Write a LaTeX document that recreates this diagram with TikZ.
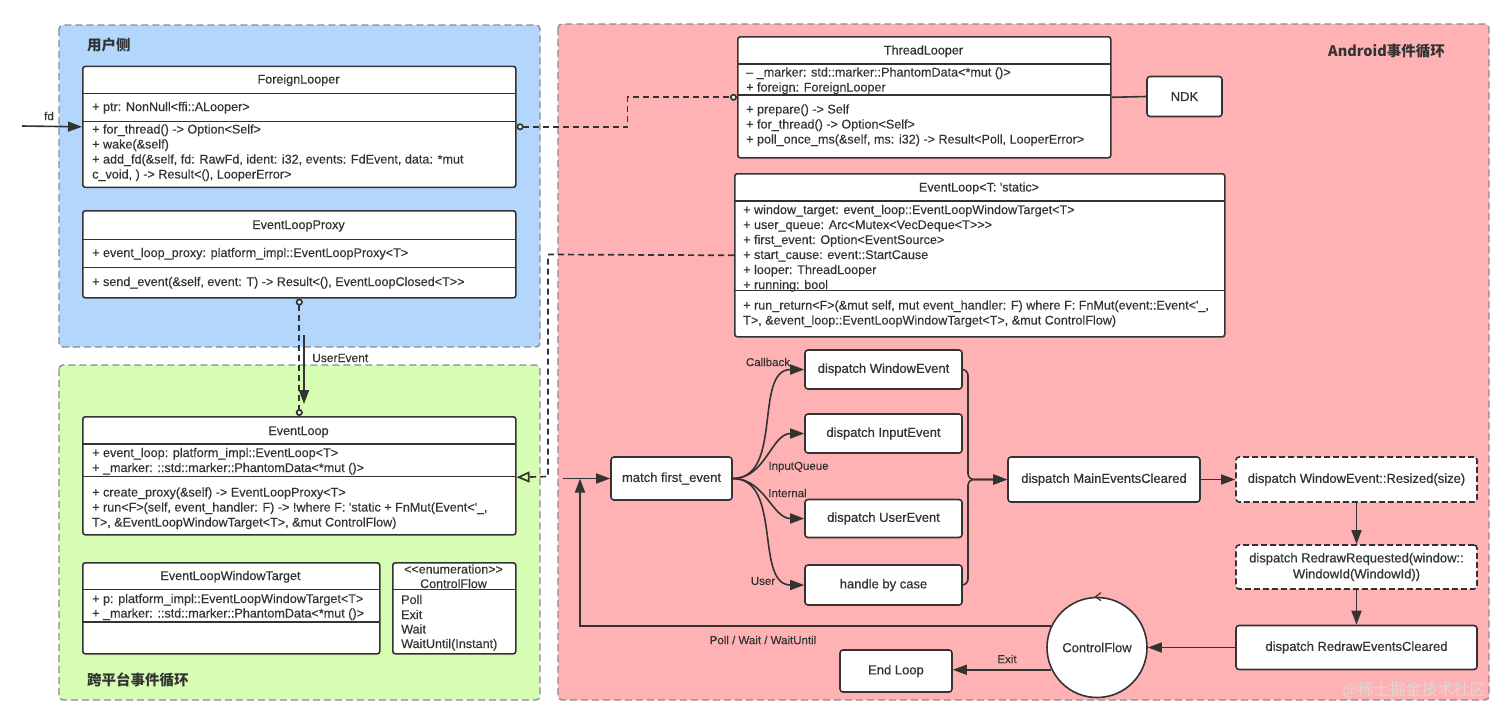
\documentclass[tikz,border=0pt]{standalone}
\usepackage{fontspec}
\newfontfamily\ui{Liberation Sans}[FakeBold=0.25]
\newfontfamily\uim{Liberation Sans}[FakeBold=0.6]
\newfontfamily\cjk{Noto Sans CJK SC}
\usetikzlibrary{arrows.meta,calc,shapes.geometric}
\definecolor{linec}{HTML}{333333}
\definecolor{framec}{HTML}{8C8C8C}
\definecolor{bluef}{HTML}{B3D6FD}
\definecolor{greenf}{HTML}{D6FDB3}
\definecolor{pinkf}{HTML}{FFB2B3}
\tikzset{
  frame/.style={draw=framec, line width=1.4pt, dash pattern=on 7pt off 4pt, rounded corners=4pt},
  cbox/.style={draw=linec, fill=white, line width=1.6pt, rounded corners=2.5pt, anchor=north west, inner sep=0pt},
  ln/.style={anchor=west, inner sep=0pt, text height=9pt, text depth=3pt, font=\ui\fontsize{12.6}{14}\selectfont, text=linec},
  ttl/.style={anchor=center, inner sep=0pt, text height=9pt, text depth=3pt, font=\uim\fontsize{12.6}{14}\selectfont, text=linec},
  sepl/.style={draw=linec, line width=1.6pt},
  fbox/.style={draw=linec, fill=white, line width=1.6pt, rounded corners=3pt, inner sep=0pt, font=\uim\fontsize{13}{16}\selectfont, text=linec, align=center},
  dbox/.style={fbox, dash pattern=on 6pt off 3pt},
  arr/.style={draw=linec, line width=1.6pt, -{Triangle[length=14pt,width=10pt]}},
  lbl/.style={inner sep=0pt, font=\ui\fontsize{11.5}{14}\selectfont, text=linec},
  dcon/.style={draw=linec, line width=1.7pt, dash pattern=on 6pt off 4pt},
  gtitle/.style={anchor=west, inner sep=0pt, font=\cjk\bfseries\fontsize{14.5}{17}\selectfont, text=linec},
}
\begin{document}
\begin{tikzpicture}[x=1pt,y=-1pt]
\useasboundingbox (0,0) rectangle (1512,724);
\fill[white] (0,0) rectangle (1512,724);

% group frames
\draw[frame, fill=bluef] (59,25) rectangle (540,347);
\draw[frame, fill=greenf] (59,365) rectangle (540,700);
\draw[frame, fill=pinkf] (558,24) rectangle (1489,700);
\node[gtitle] (g1) at (87,45) {用户侧};
\node[gtitle] (g2) at (87,680) {跨平台事件循环};
\node[gtitle] (g3) at (1328,51) {Android事件循环};

% ForeignLooper
\node[cbox, minimum width=433pt, minimum height=121pt] (fl) at (82,65.5) {};
\node[ttl] (flt) at (298.5,80.5) {ForeignLooper};
\draw[sepl] (82,93.5) -- (515,93.5);
\draw[sepl] (82,121.5) -- (515,121.5);
\node[ln] (fl1) at (92,108) {+ ptr: NonNull<ffi::ALooper>};
\node[ln] (fl2) at (92,130.5) {+ for\_thread() -> Option<Self>};
\node[ln] (fl3) at (92,145.5) {+ wake(\&self)};
\node[ln] (fl4) at (92,160.5) {+ add\_fd(\&self, fd: RawFd, ident: i32, events: FdEvent, data: *mut};
\node[ln] (fl5) at (92,175.5) {c\_void, ) -> Result<(), LooperError>};

% EventLoopProxy
\node[cbox, minimum width=433pt, minimum height=87pt] (elp) at (82,210) {};
\node[ttl] (elpt) at (298.5,226) {EventLoopProxy};
\draw[sepl] (82,239.5) -- (515,239.5);
\draw[sepl] (82,267.5) -- (515,267.5);
\node[ln] (elp1) at (92,254) {+ event\_loop\_proxy: platform\_impl::EventLoopProxy<T>};
\node[ln] (elp2) at (92,283) {+ send\_event(\&self, event: T) -> Result<(), EventLoopClosed<T>>};

% EventLoop (cross platform)
\node[cbox, minimum width=433pt, minimum height=118pt] (el) at (82,416) {};
\node[ttl] (elt) at (298.5,432) {EventLoop};
\draw[sepl] (82,444) -- (515,444);
\draw[sepl] (82,476.5) -- (515,476.5);
\node[ln] (el1) at (92,454) {+ event\_loop: platform\_impl::EventLoop<T>};
\node[ln] (el2a) at (92,469) {+ \_marker: ::std::marker::PhantomData<*mut ()>};
\node[ln] (el3) at (92,493.5) {+ create\_proxy(\&self) -> EventLoopProxy<T>};
\node[ln] (el4) at (92,508.5) {+ run<F>(self, event\_handler: F) -> !where F: 'static + FnMut(Event<'\_,};
\node[ln] (el5) at (92,523.5) {T>, \&EventLoopWindowTarget<T>, \&mut ControlFlow)};

% EventLoopWindowTarget
\node[cbox, minimum width=297pt, minimum height=91pt] (elwt) at (82,562) {};
\node[ttl] (elwtt) at (230.5,577) {EventLoopWindowTarget};
\draw[sepl] (82,589.5) -- (379,589.5);
\draw[sepl] (82,622) -- (379,622);
\node[ln] (elwt1) at (92,600) {+ p: platform\_impl::EventLoopWindowTarget<T>};
\node[ln] (elwt2) at (92,614.5) {+ \_marker: ::std::marker::PhantomData<*mut ()>};

% ControlFlow enumeration
\node[cbox, minimum width=123pt, minimum height=91pt] (cfe) at (392,562) {};
\node[ttl, font=\ui\fontsize{12.5}{14}\selectfont] (cfet1) at (453.5,570.5) {<\kern0pt<enumeration>\kern0pt>};
\node[ttl, font=\ui\fontsize{12.5}{14}\selectfont] (cfet2) at (453.5,585) {ControlFlow};
\draw[sepl] (392,589.5) -- (515,589.5);
\node[ln] (cfe1) at (401,601) {Poll};
\node[ln] (cfe2) at (401,616) {Exit};
\node[ln] (cfe3) at (401,630.5) {Wait};
\node[ln] (cfe4) at (401,645) {WaitUntil(Instant)};

% ThreadLooper
\node[cbox, minimum width=373pt, minimum height=121pt] (tl) at (737,36) {};
\node[ttl] (tlt) at (923.5,51.5) {ThreadLooper};
\draw[sepl] (737,64) -- (1110,64);
\draw[sepl] (737,95) -- (1110,95);
\node[ln] (tl1) at (746,73.5) {– \_marker: std::marker::PhantomData<*mut ()>};
\node[ln] (tl2) at (746,88.5) {+ foreign: ForeignLooper};
\node[ln] (tl3) at (746,110.5) {+ prepare() -> Self};
\node[ln] (tl4) at (746,125.5) {+ for\_thread() -> Option<Self>};
\node[ln] (tl5) at (746,140.5) {+ poll\_once\_ms(\&self, ms: i32) -> Result<Poll, LooperError>};

% NDK
\node[fbox, minimum width=75pt, minimum height=40pt] (ndk) at (1184.5,96.5) {NDK};

% EventLoop<T: 'static>
\node[cbox, minimum width=490pt, minimum height=163pt] (elA) at (734,173) {};
\node[ttl] (elAt) at (979,188.5) {EventLoop<T: 'static>};
\draw[sepl] (734,201) -- (1224,201);
\draw[sepl] (734,290.5) -- (1224,290.5);
\node[ln] (elA1) at (743,211) {+ window\_target: event\_loop::EventLoopWindowTarget<T>};
\node[ln] (elA2) at (743,226) {+ user\_queue: Arc<Mutex<VecDeque<T>>>};
\node[ln] (elA3) at (743,241) {+ first\_event: Option<EventSource>};
\node[ln] (elA4) at (743,256) {+ start\_cause: event::StartCause};
\node[ln] (elA5) at (743,271) {+ looper: ThreadLooper};
\node[ln] (elA6) at (743,286) {+ running: bool};
\node[ln] (elA7) at (743,306.5) {+ run\_return<F>(\&mut self, mut event\_handler: F) where F: FnMut(event::Event<'\_,};
\node[ln] (elA8) at (743,321.5) {T>, \&event\_loop::EventLoopWindowTarget<T>, \&mut ControlFlow)};

% class connectors
\coordinate (fdin) at (22,126);
\draw[arr] (fdin) -- (fl.west);
\node[lbl] (fdl) at (49,116) {fd};

\draw[dcon, {Circle[length=7pt,width=7pt,fill=white]}-{Circle[length=7pt,width=7pt,fill=white]}]
  (fl.east) -- ++(111,0) |- (tl.west);
\draw[sepl] (tl.east) -- (ndk.west);

\draw[dcon, {Circle[length=7pt,width=7pt,fill=white]}-{Circle[length=7pt,width=7pt,fill=white]}]
  (elp.south) -- (el.north);
\coordinate (ue1) at (304,335);
\coordinate (ue2) at (304,404);
\draw[arr] (ue1) -- (ue2);
\node[lbl, anchor=west, font=\ui\fontsize{12}{14}\selectfont] (uel) at (312,358) {UserEvent};

\draw[dcon, -{Triangle[open,length=13pt,width=11pt]}]
  (elA.west) -- (548,254.5) -- (548,476.5) -- ([yshift=-1.5pt]el.east);

% flow
\node[fbox, minimum width=121pt, minimum height=43pt] (mfe) at (671.5,478.5) {match first\_event};
\node[fbox, minimum width=157pt, minimum height=39pt] (dwe) at (883.5,369.5) {dispatch WindowEvent};
\node[fbox, minimum width=157pt, minimum height=39pt] (die) at (883.5,433.5) {dispatch InputEvent};
\node[fbox, minimum width=157pt, minimum height=38pt] (due) at (883.5,518.5) {dispatch UserEvent};
\node[fbox, minimum width=157pt, minimum height=40pt] (hbc) at (883.5,585) {handle by case};
\node[fbox, minimum width=192pt, minimum height=45pt] (dmec) at (1104,479.5) {dispatch MainEventsCleared};
\node[dbox, minimum width=241pt, minimum height=45pt] (dwr) at (1356.5,479.5) {dispatch WindowEvent::Resized(size)};
\node[dbox, minimum width=241pt, minimum height=44pt] (drr) at (1356.5,567) {dispatch RedrawRequested(window::\\WindowId(WindowId))};
\node[fbox, minimum width=241pt, minimum height=44pt] (rec) at (1356.5,647.5) {dispatch RedrawEventsCleared};
\node[fbox, circle, minimum size=100pt] (cf) at (1097,647.5) {ControlFlow};
\node[fbox, minimum width=112pt, minimum height=42pt] (endl) at (896,671) {End Loop};

\draw[arr] (mfe.east) to[out=0,in=180] (dwe.west);
\draw[arr] (mfe.east) to[out=0,in=180] (die.west);
\draw[arr] (mfe.east) to[out=0,in=180] (due.west);
\draw[arr] (mfe.east) to[out=0,in=180] (hbc.west);
\node[lbl] (lcb) at (768,362) {Callback};
\node[lbl] (liq) at (798.5,467) {InputQueue};
\node[lbl] (lin) at (787.5,493) {Internal};
\node[lbl] (lus) at (763,581) {User};

\draw[arr, rounded corners=6pt] (dwe.east) -- (968,369.5) -- (968,479.5) -- (dmec.west);
\draw[arr, rounded corners=6pt] (hbc.east) -- (968,585) -- (968,479.5) -- (dmec.west);
\draw[arr] (dmec.east) -- (dwr.west);
\draw[arr] (dwr.south) -- (drr.north);
\draw[arr] (drr.south) -- (rec.north);
\draw[arr] (rec.west) -- (cf.east);
\draw[arr] (cf.206) -- (cf.206 -| endl.east);
\node[lbl] (lex) at (1007,659) {Exit};

\coordinate (loopin) at (563,478.5);
\draw[arr] (loopin) -- (mfe.west);
\draw[arr] (cf.155) -| (580,478.5);
\node[lbl] (lpw) at (763,640) {Poll / Wait / WaitUntil};

\draw[draw=linec, line width=1.2pt] ($(cf.north)+(4,-4)$) -- ($(cf.north)+(-1.5,0)$) -- ($(cf.north)+(4,4)$);

% watermark
\node[inner sep=0pt, text=white!70!gray, font=\cjk\fontsize{16}{18}\selectfont] (wm) at (1414,690) {@稀土掘金技术社区};
\end{tikzpicture}
\end{document}
